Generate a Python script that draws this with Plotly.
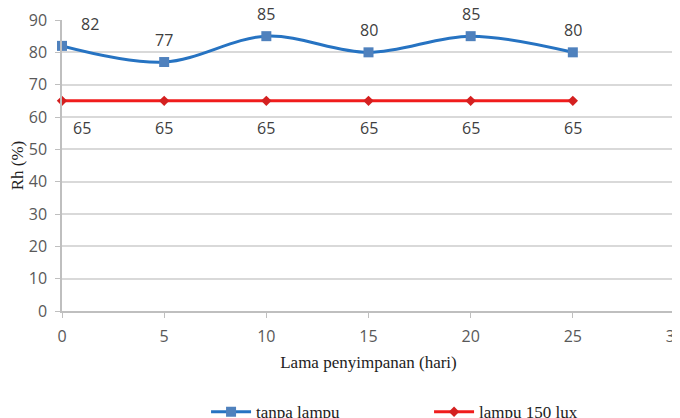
import plotly.graph_objects as go

hari = [0, 5, 10, 15, 20, 25]
tanpa_lampu = [82, 77, 85, 80, 85, 80]
lampu_150 = [65, 65, 65, 65, 65, 65]

label_font = dict(family="Open Sans", size=16, color="#404040")
tick_font = dict(family="Open Sans", size=16, color="#595959")
serif_font = dict(family="Liberation Serif", size=17, color="#222222")

fig = go.Figure()

fig.add_trace(go.Scatter(
    x=hari, y=tanpa_lampu, name="tanpa lampu",
    mode="lines+markers",
    line=dict(color="#2673c2", width=3, shape="spline", smoothing=1.0),
    marker=dict(symbol="square", size=10, color="#4f81bd"),
    cliponaxis=False,
))
fig.add_trace(go.Scatter(
    x=hari, y=lampu_150, name="lampu 150 lux",
    mode="lines+markers",
    line=dict(color="#f01c1c", width=3),
    marker=dict(symbol="diamond", size=8, color="#d42020"),
    cliponaxis=False,
))

# data labels
for i, (x, v) in enumerate(zip(hari, tanpa_lampu)):
    fig.add_annotation(x=x, y=v, text=str(v), showarrow=False, font=label_font,
                       xshift=28 if i == 0 else 0, yshift=22)
for i, (x, v) in enumerate(zip(hari, lampu_150)):
    fig.add_annotation(x=x, y=v, text=str(v), showarrow=False, font=label_font,
                       xshift=20 if i == 0 else 0, yshift=-27)

# page body adds 8px offset, so figure is sized to the visible area
fig.update_layout(
    width=672, height=410,
    margin=dict(l=54, r=5, t=12, b=107, autoexpand=False),
    plot_bgcolor="white", paper_bgcolor="white",
    showlegend=True,
    legend=dict(orientation="h", x=0.235, xanchor="left", y=-0.286, yanchor="top",
                font=serif_font, itemwidth=40, entrywidth=168),
    xaxis=dict(range=[0, 30], tickvals=[0, 5, 10, 15, 20, 25, 30],
               showgrid=False, showline=True, linecolor="#bfbfbf", linewidth=1.5,
               ticks="outside", tickcolor="#bfbfbf", ticklen=5,
               ticklabelstandoff=5, ticklabeloverflow="allow",
               tickfont=tick_font,
               title=dict(text="Lama penyimpanan (hari)", standoff=10, font=serif_font),
               zeroline=False),
    yaxis=dict(range=[0, 90], dtick=10,
               showgrid=True, gridcolor="#d9d9d9", gridwidth=2,
               showline=True, linecolor="#bfbfbf", linewidth=1.5,
               ticks="outside", tickcolor="#bfbfbf", ticklen=5,
               ticklabelstandoff=5,
               tickfont=tick_font,
               title=dict(text="Rh (%)", standoff=13, font=serif_font),
               zeroline=False),
)

fig.write_html("out.html")
